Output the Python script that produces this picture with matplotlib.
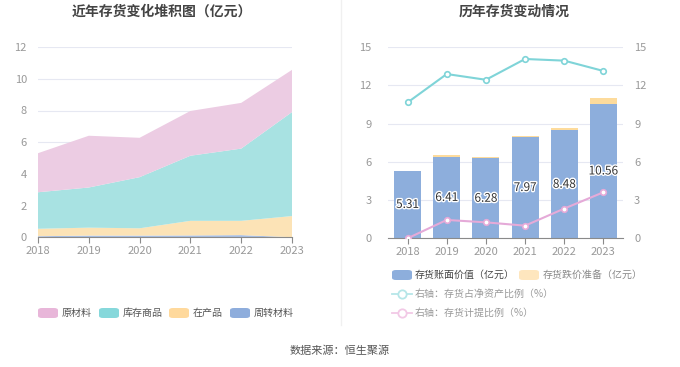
import numpy as np
import matplotlib.pyplot as plt
import matplotlib.patheffects as pe
from matplotlib.patches import FancyBboxPatch
from matplotlib.lines import Line2D

plt.rcParams['font.family'] = ['Noto Sans CJK SC', 'DejaVu Sans']

years = ['2018', '2019', '2020', '2021', '2022', '2023']

# left: stacked area (亿元)
zhouzhuan = [0.08, 0.12, 0.12, 0.13, 0.15, 0.02]
zaichanpin = [0.47, 0.50, 0.46, 0.92, 0.90, 1.33]
kucun = [2.30, 2.53, 3.22, 4.10, 4.55, 6.55]
yuancailiao = [2.46, 3.26, 2.48, 2.82, 2.88, 2.66]

# right: bars and ratios
book_value = [5.31, 6.41, 6.28, 7.97, 8.48, 10.56]
provision = [0.0, 0.10, 0.08, 0.08, 0.18, 0.42]
ratio_net_assets = [10.65, 12.88, 12.43, 14.06, 13.93, 13.12]
ratio_provision = [0.0, 1.44, 1.25, 0.99, 2.33, 3.61]

grid_c = '#E6E8F2'
tick_c = '#999999'
axis_c = '#8A8A8A'

fig = plt.figure(figsize=(6.8, 3.67), dpi=100)
W, H = 680, 367

def ax_rect(x0, x1, ytop, ybot):
    return [x0 / W, 1 - ybot / H, (x1 - x0) / W, (ybot - ytop) / H]

# ---------- left chart ----------
ax1 = fig.add_axes(ax_rect(38, 292, 47, 237.5))
x = np.arange(len(years))
ax1.stackplot(x, zhouzhuan, zaichanpin, kucun, yuancailiao,
              colors=['#A7BFE6', '#FCE3B6', '#A8E2E2', '#ECCCE3'], linewidth=0)
ax1.set_xlim(0, 5)
ax1.set_ylim(0, 12)
ax1.set_yticks(range(0, 13, 2))
ax1.set_xticks(x)
ax1.set_xticklabels(years)
ax1.grid(axis='y', color=grid_c, linewidth=0.8)
ax1.set_axisbelow(True)
for s in ['top', 'right', 'left']:
    ax1.spines[s].set_visible(False)
ax1.spines['bottom'].set_color(axis_c)
ax1.tick_params(axis='y', length=0, labelsize=8, labelcolor=tick_c, pad=8)
ax1.tick_params(axis='x', length=4, color=axis_c, labelsize=8, labelcolor=tick_c, pad=2)

# ---------- right chart ----------
ax2 = fig.add_axes(ax_rect(388, 623, 47, 238.3))
ax2.bar(x, book_value, width=0.69, color='#8DAEDC', zorder=2)
ax2.bar(x, provision, width=0.69, bottom=book_value, color='#FDDB9C', zorder=2)
for i, v in enumerate(book_value):
    ax2.text(i, v / 2, f'{v:.2f}', ha='center', va='center', fontsize=8.5,
             color='#333333', zorder=5,
             path_effects=[pe.withStroke(linewidth=2, foreground='white')])
ax2.set_xlim(-0.5, 5.5)
ax2.set_ylim(0, 15)
ax2.set_yticks(range(0, 16, 3))
ax2.set_xticks(x)
ax2.set_xticklabels(years)
ax2.grid(axis='y', color=grid_c, linewidth=0.8)
ax2.set_axisbelow(True)
for s in ['top', 'right', 'left']:
    ax2.spines[s].set_visible(False)
ax2.spines['bottom'].set_color(axis_c)
ax2.tick_params(axis='y', length=0, labelsize=8, labelcolor=tick_c, pad=12)
ax2.tick_params(axis='x', length=4, color=axis_c, labelsize=8, labelcolor=tick_c, pad=2)

ax3 = ax2.twinx()
ax3.plot(x, ratio_net_assets, color='#7FD4D8', linewidth=1.5, marker='o',
         markersize=4, markerfacecolor='white', markeredgewidth=1.2, zorder=4)
ax3.plot(x, ratio_provision, color='#E5AAD8', linewidth=1.5, marker='o',
         markersize=4, markerfacecolor='white', markeredgewidth=1.2, zorder=4)
ax3.set_ylim(0, 15)
ax3.set_yticks(range(0, 16, 3))
for s in ['top', 'right', 'left', 'bottom']:
    ax3.spines[s].set_visible(False)
ax3.tick_params(axis='y', length=0, labelsize=8, labelcolor=tick_c, pad=8)

# ---------- titles, divider, legends ----------
fig.text(162 / W, 1 - 12 / H, '近年存货变化堆积图（亿元）', ha='center', va='center',
         fontsize=10, fontweight='bold', color='#444444')
fig.text(514 / W, 1 - 12 / H, '历年存货变动情况', ha='center', va='center',
         fontsize=10, fontweight='bold', color='#444444')
fig.add_artist(Line2D([341 / W, 341 / W], [1 - 325 / H, 1], color='#F0F0F0', linewidth=1))

def swatch(xp, yp, color, w=20, h=10):
    fig.add_artist(FancyBboxPatch(((xp) / W, 1 - (yp + h / 2) / H), w / W, h / H,
                                  boxstyle='round,pad=0,rounding_size=0.006',
                                  facecolor=color, edgecolor='none',
                                  transform=fig.transFigure))

left_items = [('原材料', '#E8B6D9', 38), ('库存商品', '#86D8DB', 99),
              ('在产品', '#FFD99C', 169), ('周转材料', '#8EADDC', 230)]
for label, c, xp in left_items:
    swatch(xp, 313, c)
    fig.text((xp + 24) / W, 1 - 313 / H, label, ha='left', va='center',
             fontsize=7.2, color='#555555')

swatch(392, 275, '#8DAEDC')
fig.text(415 / W, 1 - 275 / H, '存货账面价值（亿元）', ha='left', va='center',
         fontsize=7.2, color='#444444')
swatch(519, 275, '#FEE6BE')
fig.text(543 / W, 1 - 275 / H, '存货跌价准备（亿元）', ha='left', va='center',
         fontsize=7.2, color='#888888')

for yp, c, label in [(294, '#B6E6E8', '右轴：存货占净资产比例（%）'),
                     (313, '#F2C9E6', '右轴：存货计提比例（%）')]:
    fig.add_artist(Line2D([392 / W, 412 / W], [1 - yp / H, 1 - yp / H], color=c,
                          linewidth=1.3, transform=fig.transFigure))
    fig.add_artist(Line2D([402 / W], [1 - yp / H], color=c, marker='o', markersize=6,
                          markerfacecolor='white', markeredgewidth=1.3, linestyle='none',
                          transform=fig.transFigure))
    fig.text(415 / W, 1 - yp / H, label, ha='left', va='center',
             fontsize=7.2, color='#999999')

fig.text(340 / W, 1 - 351 / H, '数据来源：恒生聚源', ha='center', va='center',
         fontsize=8, color='#555555')

fig.savefig('out.png', dpi=100)
